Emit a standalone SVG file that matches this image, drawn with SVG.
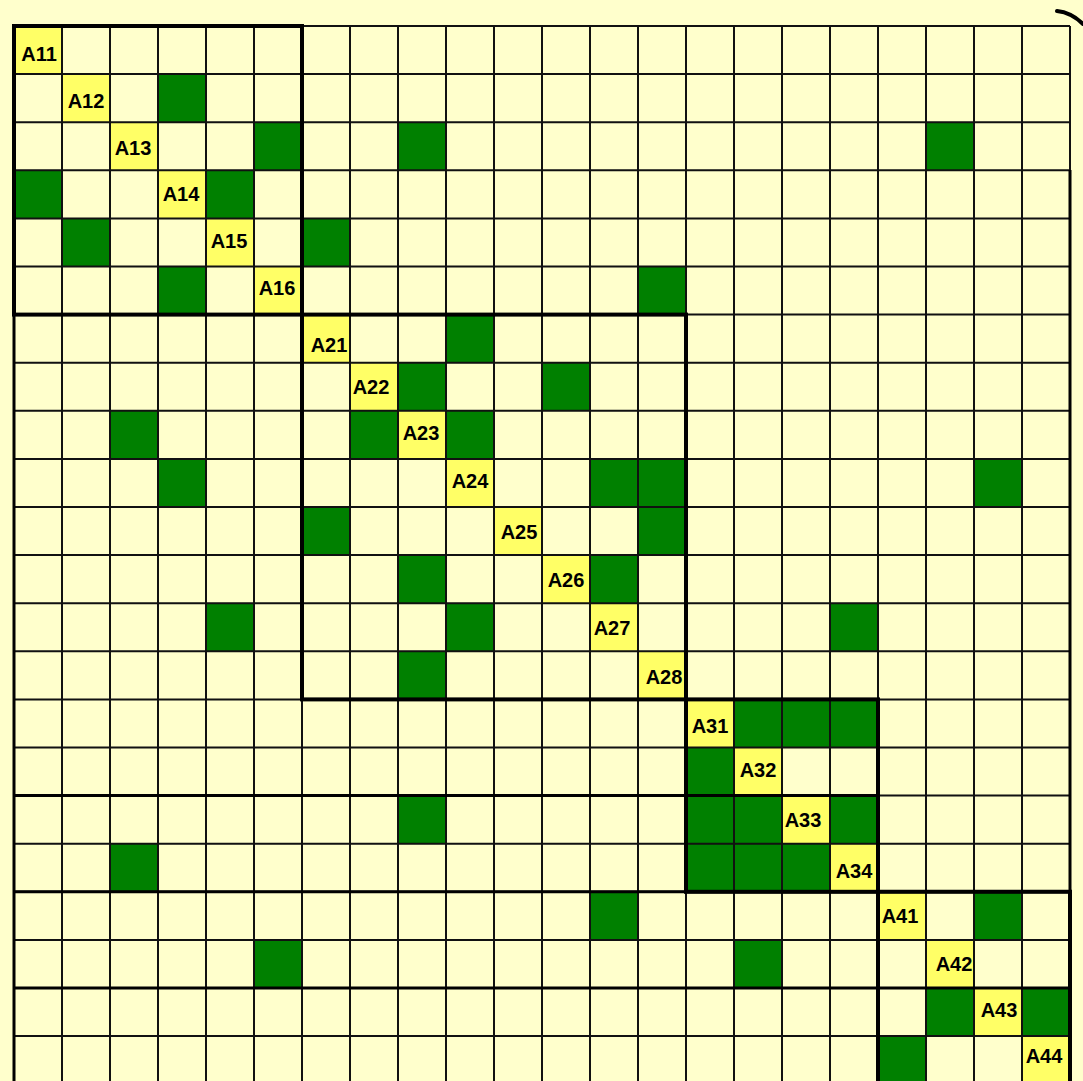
<svg xmlns="http://www.w3.org/2000/svg" width="1083" height="1081" viewBox="0 0 1083 1081">
<defs>
<style>
.g{fill:#008000}
.y{fill:#FFFF66}
.lbl{font-family:"Liberation Sans",Arial,sans-serif;font-weight:bold;font-size:20px;fill:#000;text-anchor:middle}
.thin{stroke:#111;stroke-width:2;fill:none}
.thick{stroke:#000;stroke-width:4;fill:none}
.mid{stroke:#000;stroke-width:3;fill:none}
</style>
</defs>
<rect x="0" y="0" width="1083" height="1081" fill="#FFFFCC"/>
<g id="filled-cells">
<rect class="g" x="158" y="74.1" width="48" height="48.1"/>
<rect class="g" x="254" y="122.2" width="48" height="48.1"/>
<rect class="g" x="398" y="122.2" width="48" height="48.1"/>
<rect class="g" x="926" y="122.2" width="48" height="48.1"/>
<rect class="g" x="14" y="170.3" width="48" height="48.1"/>
<rect class="g" x="206" y="170.3" width="48" height="48.1"/>
<rect class="g" x="62" y="218.4" width="48" height="48.1"/>
<rect class="g" x="302" y="218.4" width="48" height="48.1"/>
<rect class="g" x="158" y="266.5" width="48" height="48.1"/>
<rect class="g" x="638" y="266.5" width="48" height="48.1"/>
<rect class="g" x="446" y="314.6" width="48" height="48.1"/>
<rect class="g" x="398" y="362.7" width="48" height="48.1"/>
<rect class="g" x="542" y="362.7" width="48" height="48.1"/>
<rect class="g" x="110" y="410.8" width="48" height="48.1"/>
<rect class="g" x="350" y="410.8" width="48" height="48.1"/>
<rect class="g" x="446" y="410.8" width="48" height="48.1"/>
<rect class="g" x="158" y="458.9" width="48" height="48.1"/>
<rect class="g" x="590" y="458.9" width="48" height="48.1"/>
<rect class="g" x="638" y="458.9" width="48" height="48.1"/>
<rect class="g" x="974" y="458.9" width="48" height="48.1"/>
<rect class="g" x="302" y="507" width="48" height="48.1"/>
<rect class="g" x="638" y="507" width="48" height="48.1"/>
<rect class="g" x="398" y="555.1" width="48" height="48.1"/>
<rect class="g" x="590" y="555.1" width="48" height="48.1"/>
<rect class="g" x="206" y="603.2" width="48" height="48.1"/>
<rect class="g" x="446" y="603.2" width="48" height="48.1"/>
<rect class="g" x="830" y="603.2" width="48" height="48.1"/>
<rect class="g" x="398" y="651.3" width="48" height="48.1"/>
<rect class="g" x="734" y="699.4" width="48" height="48.1"/>
<rect class="g" x="782" y="699.4" width="48" height="48.1"/>
<rect class="g" x="830" y="699.4" width="48" height="48.1"/>
<rect class="g" x="686" y="747.5" width="48" height="48.1"/>
<rect class="g" x="398" y="795.6" width="48" height="48.1"/>
<rect class="g" x="686" y="795.6" width="48" height="48.1"/>
<rect class="g" x="734" y="795.6" width="48" height="48.1"/>
<rect class="g" x="830" y="795.6" width="48" height="48.1"/>
<rect class="g" x="110" y="843.7" width="48" height="48.1"/>
<rect class="g" x="686" y="843.7" width="48" height="48.1"/>
<rect class="g" x="734" y="843.7" width="48" height="48.1"/>
<rect class="g" x="782" y="843.7" width="48" height="48.1"/>
<rect class="g" x="590" y="891.8" width="48" height="48.1"/>
<rect class="g" x="974" y="891.8" width="48" height="48.1"/>
<rect class="g" x="254" y="939.9" width="48" height="48.1"/>
<rect class="g" x="734" y="939.9" width="48" height="48.1"/>
<rect class="g" x="926" y="988" width="48" height="48.1"/>
<rect class="g" x="1022" y="988" width="48" height="48.1"/>
<rect class="g" x="878" y="1036.1" width="48" height="48.1"/>
</g>
<g id="diagonal-fill">
<rect class="y" x="14" y="26" width="48" height="48.1"/>
<rect class="y" x="62" y="74.1" width="48" height="48.1"/>
<rect class="y" x="110" y="122.2" width="48" height="48.1"/>
<rect class="y" x="158" y="170.3" width="48" height="48.1"/>
<rect class="y" x="206" y="218.4" width="48" height="48.1"/>
<rect class="y" x="254" y="266.5" width="48" height="48.1"/>
<rect class="y" x="302" y="314.6" width="48" height="48.1"/>
<rect class="y" x="350" y="362.7" width="48" height="48.1"/>
<rect class="y" x="398" y="410.8" width="48" height="48.1"/>
<rect class="y" x="446" y="458.9" width="48" height="48.1"/>
<rect class="y" x="494" y="507" width="48" height="48.1"/>
<rect class="y" x="542" y="555.1" width="48" height="48.1"/>
<rect class="y" x="590" y="603.2" width="48" height="48.1"/>
<rect class="y" x="638" y="651.3" width="48" height="48.1"/>
<rect class="y" x="686" y="699.4" width="48" height="48.1"/>
<rect class="y" x="734" y="747.5" width="48" height="48.1"/>
<rect class="y" x="782" y="795.6" width="48" height="48.1"/>
<rect class="y" x="830" y="843.7" width="48" height="48.1"/>
<rect class="y" x="878" y="891.8" width="48" height="48.1"/>
<rect class="y" x="926" y="939.9" width="48" height="48.1"/>
<rect class="y" x="974" y="988" width="48" height="48.1"/>
<rect class="y" x="1022" y="1036.1" width="48" height="48.1"/>
</g>
<g id="grid">
<path class="thin" d="M14,26V1081M62,26V1081M110,26V1081M158,26V1081M206,26V1081M254,26V1081M302,26V1081M350,26V1081M398,26V1081M446,26V1081M494,26V1081M542,26V1081M590,26V1081M638,26V1081M686,26V1081M734,26V1081M782,26V1081M830,26V1081M878,26V1081M926,26V1081M974,26V1081M1022,26V1081M1070,26V1081"/>
<path class="thin" d="M14,26H1070M14,74.1H1070M14,122.2H1070M14,170.3H1070M14,218.4H1070M14,266.5H1070M14,314.6H1070M14,362.7H1070M14,410.8H1070M14,458.9H1070M14,507H1070M14,555.1H1070M14,603.2H1070M14,651.3H1070M14,699.4H1070M14,747.5H1070M14,795.6H1070M14,843.7H1070M14,891.8H1070M14,939.9H1070M14,988H1070M14,1036.1H1070"/>
<path class="mid" d="M14,314.6V1081M1070,170V1081M14,795.6H878M14,891.8H1070M14,988H1070"/>
</g>
<g id="blocks">
<rect id="block-A1" class="thick" x="14" y="26" width="288" height="288.6"/>
<rect id="block-A2" class="thick" x="302" y="314.6" width="384" height="384.8"/>
<rect id="block-A3" class="thick" x="686" y="699.4" width="192" height="192.4"/>
<path id="block-A4" class="thick" d="M878,1084V891.8H1070V1084"/>
</g>
<g id="labels">
<g id="A11"><text class="lbl" x="39" y="61">A11</text></g>
<g id="A12"><text class="lbl" x="86" y="108">A12</text></g>
<g id="A13"><text class="lbl" x="133" y="155">A13</text></g>
<g id="A14"><text class="lbl" x="181" y="201">A14</text></g>
<g id="A15"><text class="lbl" x="229" y="248">A15</text></g>
<g id="A16"><text class="lbl" x="277" y="295">A16</text></g>
<g id="A21"><text class="lbl" x="329" y="352">A21</text></g>
<g id="A22"><text class="lbl" x="371" y="394">A22</text></g>
<g id="A23"><text class="lbl" x="421" y="440">A23</text></g>
<g id="A24"><text class="lbl" x="470" y="488">A24</text></g>
<g id="A25"><text class="lbl" x="519" y="539">A25</text></g>
<g id="A26"><text class="lbl" x="566" y="587">A26</text></g>
<g id="A27"><text class="lbl" x="612" y="635">A27</text></g>
<g id="A28"><text class="lbl" x="664" y="684">A28</text></g>
<g id="A31"><text class="lbl" x="710" y="733">A31</text></g>
<g id="A32"><text class="lbl" x="758" y="777">A32</text></g>
<g id="A33"><text class="lbl" x="803" y="827">A33</text></g>
<g id="A34"><text class="lbl" x="854" y="878">A34</text></g>
<g id="A41"><text class="lbl" x="900" y="923">A41</text></g>
<g id="A42"><text class="lbl" x="954" y="971">A42</text></g>
<g id="A43"><text class="lbl" x="999" y="1017">A43</text></g>
<g id="A44"><text class="lbl" x="1044" y="1063">A44</text></g>
</g>
<path d="M1057,11 C1066,12 1075,16 1083,24" stroke="#000" stroke-width="4" fill="none" stroke-linecap="round"/>
</svg>
